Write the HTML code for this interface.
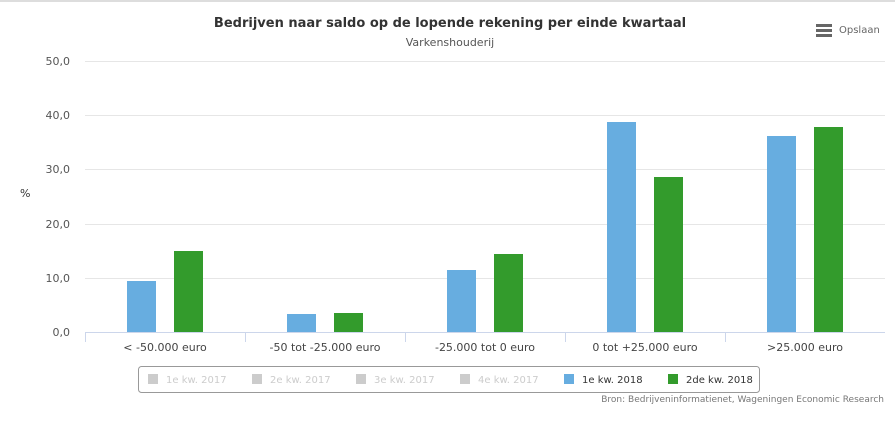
<!DOCTYPE html><html><head><meta charset="utf-8"><style>body{margin:0;background:#fff}svg{display:block;font-family:"DejaVu Sans","Liberation Sans",sans-serif}</style></head><body>
<svg width="895" height="430" viewBox="0 0 895 430">
<line x1="0" y1="1" x2="895" y2="1" stroke="#ddd" stroke-width="2"/>
<text x="450" y="27" text-anchor="middle" font-size="13" font-weight="bold" fill="#333">Bedrijven naar saldo op de lopende rekening per einde kwartaal</text>
<text x="450" y="46" text-anchor="middle" font-size="11" fill="#555">Varkenshouderij</text>
<g fill="#666"><rect x="816" y="24" width="16" height="3"/><rect x="816" y="29" width="16" height="3"/><rect x="816" y="34" width="16" height="3"/></g>
<text x="839" y="33" font-size="10" fill="#666">Opslaan</text>
<g stroke="#e6e6e6"><line x1="85" y1="61.5" x2="885" y2="61.5"/><line x1="85" y1="115.5" x2="885" y2="115.5"/><line x1="85" y1="169.5" x2="885" y2="169.5"/><line x1="85" y1="224.5" x2="885" y2="224.5"/><line x1="85" y1="278.5" x2="885" y2="278.5"/></g>
<g font-size="11" fill="#555" text-anchor="end"><text x="70" y="65">50,0</text><text x="70" y="119">40,0</text><text x="70" y="173">30,0</text><text x="70" y="228">20,0</text><text x="70" y="282">10,0</text><text x="70" y="336">0,0</text></g>
<text x="20" y="197" font-size="11" fill="#333">%</text>
<g fill="#67ade0"><rect x="127" y="281" width="29" height="51"/><rect x="287" y="314" width="29" height="18"/><rect x="447" y="270" width="29" height="62"/><rect x="607" y="122" width="29" height="210"/><rect x="767" y="136" width="29" height="196"/></g>
<g fill="#339b2c"><rect x="174" y="251" width="29" height="81"/><rect x="334" y="313" width="29" height="19"/><rect x="494" y="254" width="29" height="78"/><rect x="654" y="177" width="29" height="155"/><rect x="814" y="127" width="29" height="205"/></g>
<line x1="85" y1="332.5" x2="885" y2="332.5" stroke="#ccd6eb"/>
<g stroke="#ccd6eb"><line x1="85.5" y1="332" x2="85.5" y2="342"/><line x1="245.5" y1="332" x2="245.5" y2="342"/><line x1="405.5" y1="332" x2="405.5" y2="342"/><line x1="565.5" y1="332" x2="565.5" y2="342"/><line x1="725.5" y1="332" x2="725.5" y2="342"/></g>
<g font-size="11" fill="#444" text-anchor="middle"><text x="165" y="351">&lt; -50.000 euro</text><text x="325" y="351">-50 tot -25.000 euro</text><text x="485" y="351">-25.000 tot 0 euro</text><text x="645" y="351">0 tot +25.000 euro</text><text x="805" y="351">&gt;25.000 euro</text></g>
<rect x="138.5" y="366.5" width="621" height="26" rx="3" fill="#fff" stroke="#999"/>
<g font-size="10"><rect x="148" y="374" width="10" height="10" fill="#ccc"/><text x="166" y="383" fill="#ccc">1e kw. 2017</text>
<rect x="252" y="374" width="10" height="10" fill="#ccc"/><text x="270" y="383" fill="#ccc">2e kw. 2017</text>
<rect x="356" y="374" width="10" height="10" fill="#ccc"/><text x="374" y="383" fill="#ccc">3e kw. 2017</text>
<rect x="460" y="374" width="10" height="10" fill="#ccc"/><text x="478" y="383" fill="#ccc">4e kw. 2017</text>
<rect x="564" y="374" width="10" height="10" fill="#67ade0"/><text x="582" y="383" fill="#333">1e kw. 2018</text>
<rect x="668" y="374" width="10" height="10" fill="#339b2c"/><text x="686" y="383" fill="#333">2de kw. 2018</text></g>
<text x="884" y="402" text-anchor="end" font-size="9" fill="#777">Bron: Bedrijveninformatienet, Wageningen Economic Research</text>
</svg></body></html>
